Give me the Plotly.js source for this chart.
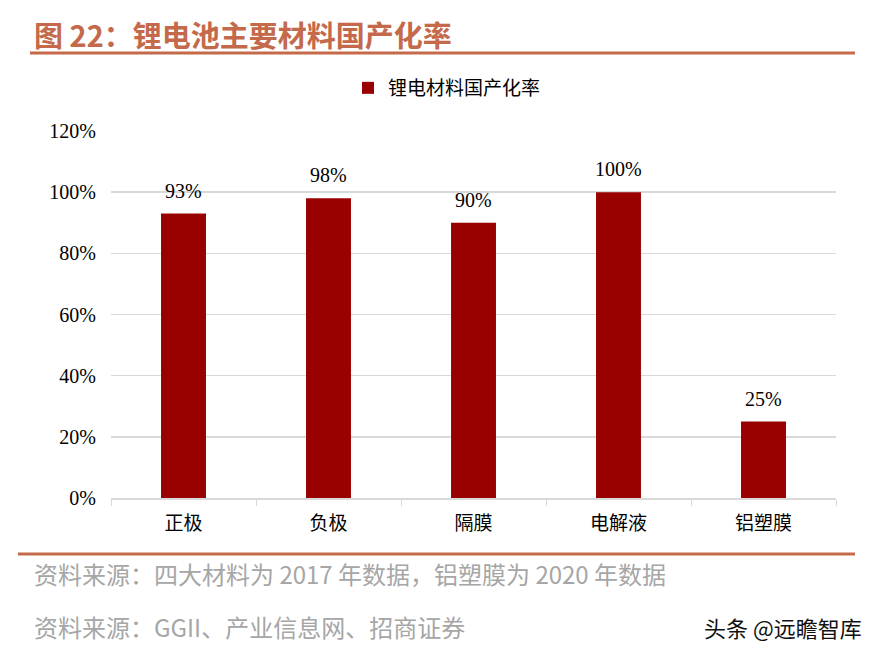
<!DOCTYPE html>
<html><head><meta charset="utf-8">
<script src="https://cdn.plot.ly/plotly-3.0.1.min.js"></script>
<style>html,body{margin:0;padding:0;background:#fff}#c{width:882px;height:657px}</style>
</head><body><div id="c"></div>
<script>
const categories = ["正极", "负极", "隔膜", "电解液", "铝塑膜"];
const values = [0.93, 0.98, 0.90, 1.00, 0.25];
const valueLabels = ["93%", "98%", "90%", "100%", "25%"];
const seriesName = "锂电材料国产化率";
const yTicks = [0, 0.2, 0.4, 0.6, 0.8, 1.0, 1.2];
const yTickLabels = ["0%", "20%", "40%", "60%", "80%", "100%", "120%"];

const serif = "Liberation Serif, Times New Roman, serif";
const cjk = "Noto Sans CJK SC, sans-serif";
const accent = "#c46a4b";
const L = 111, R = 46, T = 131, B = 159, W = 882, H = 657;
const pw = W - L - R, ph = H - T - B;
const px = x => (x - L) / pw;
const py = y => (H - B - y) / ph;

const valueAnnotations = categories.map((c, i) => ({
  x: c, y: values[i], xref: "x", yref: "y", text: valueLabels[i],
  showarrow: false, yanchor: "bottom", yshift: 10,
  font: {family: serif, size: 20, color: "#000"}
}));

Plotly.newPlot("c", [{
  type: "bar", x: categories, y: values, name: seriesName,
  marker: {color: "#990000"},
  showlegend: true
}], {
  width: W, height: H,
  margin: {l: L, r: R, t: T, b: B, autoexpand: false},
  paper_bgcolor: "#fff", plot_bgcolor: "#fff",
  bargap: 0.69,
  xaxis: {
    type: "category", showgrid: false, zeroline: false, automargin: false,
    showline: true, linecolor: "#d9d9d9", linewidth: 1.5, tickangle: 0,
    ticks: "outside", ticklen: 6, tickcolor: "#d9d9d9", tickson: "boundaries",
    ticklabelstandoff: 8,
    tickfont: {family: cjk, size: 19, color: "#000"}
  },
  yaxis: {
    range: [0, 1.2], tickvals: yTicks, ticktext: yTickLabels, automargin: false,
    showgrid: true, gridcolor: "#d9d9d9", gridwidth: 1.5, zeroline: false,
    showline: false, ticks: "", ticklabelstandoff: 14,
    tickfont: {family: serif, size: 20, color: "#000"}
  },
  legend: {
    orientation: "h", x: px(447), xanchor: "center", y: py(88), yanchor: "middle",
    xref: "paper", yref: "paper", itemwidth: 30,
    font: {family: cjk, size: 19, color: "#000"}
  },
  shapes: [
    {type: "line", xref: "paper", yref: "paper", x0: px(30), x1: px(855),
     y0: py(53), y1: py(53), line: {color: accent, width: 3}},
    {type: "line", xref: "paper", yref: "paper", x0: px(18), x1: px(855),
     y0: py(554), y1: py(554), line: {color: accent, width: 3}}
  ],
  annotations: valueAnnotations.concat([
    {text: "<b>图 22：锂电池主要材料国产化率</b>", xref: "paper", yref: "paper",
     x: px(32), y: py(34), xanchor: "left", yanchor: "middle", showarrow: false,
     font: {family: cjk, size: 29, color: accent}},
    {text: "资料来源：四大材料为 2017 年数据，铝塑膜为 2020 年数据", xref: "paper", yref: "paper",
     x: px(32), y: py(573), xanchor: "left", yanchor: "middle", showarrow: false,
     font: {family: cjk, size: 24, color: "#a6a6a6"}},
    {text: "资料来源：GGII、产业信息网、招商证券", xref: "paper", yref: "paper",
     x: px(32), y: py(626), xanchor: "left", yanchor: "middle", showarrow: false,
     font: {family: cjk, size: 24, color: "#a6a6a6"}},
    {text: "头条 @远瞻智库", xref: "paper", yref: "paper",
     x: px(864), y: py(627), xanchor: "right", yanchor: "middle", showarrow: false,
     font: {family: cjk, size: 22, color: "#111"}}
  ])
}, {displayModeBar: false, staticPlot: true});
</script></body></html>
